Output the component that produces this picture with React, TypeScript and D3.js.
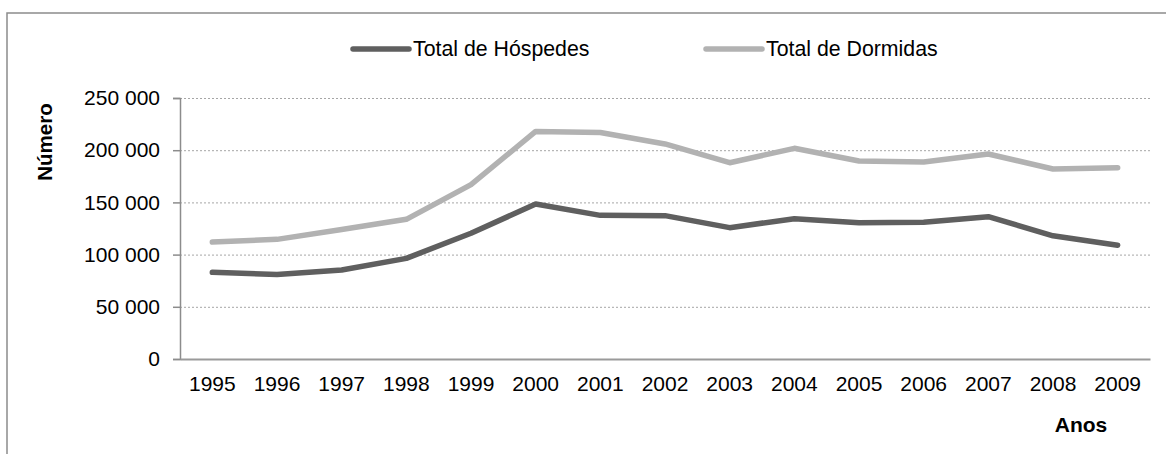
import React, { useRef, useEffect } from "react";
import * as d3 from "d3";

const anos = ["1995", "1996", "1997", "1998", "1999", "2000", "2001", "2002", "2003", "2004", "2005", "2006", "2007", "2008", "2009"];
const hospedes = [83000, 81000, 85200, 96400, 120400, 148500, 137600, 137300, 125800, 134400, 130600, 131000, 136300, 118000, 109000];
const dormidas = [112000, 114600, 124000, 133800, 167000, 218000, 217000, 206000, 188000, 201800, 189600, 188700, 196400, 182000, 183300];
const yTicks = [0, 50000, 100000, 150000, 200000, 250000];

const series = [
  { name: "Total de Hóspedes", values: hospedes, color: "#5f5f5f" },
  { name: "Total de Dormidas", values: dormidas, color: "#b2b2b2" },
];

const App = () => {
  const svgRef = useRef<SVGSVGElement>(null);

  useEffect(() => {
    const width = 1166;
    const height = 454;
    const marginLeft = 180;
    const marginRight = 16;
    const marginTop = 98;
    const marginBottom = 95;
    const font = "'Liberation Sans', Arial, sans-serif";

    const svg = d3.select(svgRef.current);
    svg.selectAll("*").remove();
    svg.attr("width", width).attr("height", height).attr("viewBox", [0, 0, width, height]);

    // outer frame (runs off the right and bottom edges)
    svg.append("rect")
      .attr("x", 7).attr("y", 13)
      .attr("width", width + 20).attr("height", height + 20)
      .attr("fill", "#fff").attr("stroke", "#8c8c8c").attr("stroke-width", 1.5);

    const x = d3.scaleBand()
      .domain(anos)
      .range([marginLeft, width - marginRight]);

    const y = d3.scaleLinear()
      .domain([0, 250000])
      .range([height - marginBottom, marginTop]);

    // gridlines
    svg.append("g")
      .selectAll("line")
      .data(yTicks.filter(d => d > 0))
      .join("line")
      .attr("x1", marginLeft).attr("x2", width - marginRight)
      .attr("y1", d => y(d) + 0.5).attr("y2", d => y(d) + 0.5)
      .attr("stroke", "#a6a6a6").attr("stroke-width", 1)
      .attr("stroke-dasharray", "2,2");

    // y axis
    const yAxis = svg.append("g")
      .attr("transform", `translate(${marginLeft},0)`)
      .call(d3.axisLeft(y).tickValues(yTicks).tickSize(7).tickPadding(13)
        .tickFormat(d => d3.format(",")(d as number).replace(/,/g, " ")));
    yAxis.select(".domain").attr("stroke", "#8c8c8c").attr("stroke-width", 1.5);
    yAxis.selectAll(".tick line").attr("stroke", "#8c8c8c").attr("stroke-width", 1.5);
    yAxis.selectAll("text").attr("font-family", font).attr("font-size", 21).attr("fill", "#000");

    // x axis
    const xAxis = svg.append("g")
      .attr("transform", `translate(0,${height - marginBottom})`)
      .call(d3.axisBottom(x).tickSize(0).tickPadding(17).tickSizeOuter(0));
    xAxis.select(".domain").attr("stroke", "#9a9a9a").attr("stroke-width", 2.2);
    xAxis.selectAll("text").attr("font-family", font).attr("font-size", 21).attr("fill", "#000");

    const line = d3.line<number>()
      .x((_, i) => (x(anos[i]) as number) + x.bandwidth() / 2)
      .y(d => y(d));

    svg.append("g")
      .selectAll("path")
      .data(series)
      .join("path")
      .attr("d", s => line(s.values))
      .attr("fill", "none")
      .attr("stroke", s => s.color)
      .attr("stroke-width", 5.5)
      .attr("stroke-linejoin", "round")
      .attr("stroke-linecap", "round");

    // legend
    const legendX = [353, 706];
    const legend = svg.append("g")
      .selectAll("g")
      .data(series)
      .join("g")
      .attr("transform", (_, i) => `translate(${legendX[i]},49)`);
    legend.append("line")
      .attr("x1", 0).attr("x2", 56)
      .attr("stroke", s => s.color).attr("stroke-width", 5.5)
      .attr("stroke-linecap", "round");
    legend.append("text")
      .attr("x", 60).attr("dy", "0.35em")
      .attr("font-family", font).attr("font-size", 21.3)
      .text(s => s.name);

    // axis titles
    svg.append("text")
      .attr("transform", "translate(45,142) rotate(-90)")
      .attr("text-anchor", "middle").attr("dy", "0.35em")
      .attr("font-family", font).attr("font-size", 20.5).attr("font-weight", "bold")
      .text("Número");
    svg.append("text")
      .attr("x", 1081).attr("y", 425)
      .attr("text-anchor", "middle").attr("dy", "0.35em")
      .attr("font-family", font).attr("font-size", 21).attr("font-weight", "bold")
      .text("Anos");
  }, []);

  return <svg ref={svgRef} style={{ position: "absolute", left: 0, top: 0 }} />;
};

export default App;
